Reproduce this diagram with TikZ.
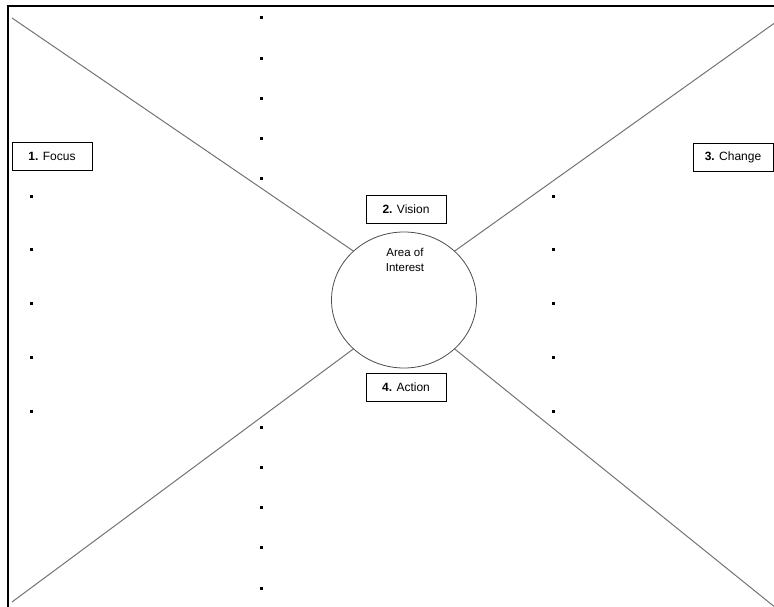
\documentclass[tikz,border=0pt]{standalone}
\usepackage{fontspec}
\setmainfont{Liberation Sans}
\usetikzlibrary{positioning,shapes.geometric}

\begin{document}
\begin{tikzpicture}[x=1pt, y=-1pt,
    stagebox/.style={draw=black, fill=white, line width=0.8pt, minimum width=80pt, minimum height=28pt, inner sep=0pt, font=\fontsize{12}{14}\selectfont},
    spoke/.style={draw=black!55, line width=1pt},
    dotmark/.style={fill=black}]
  \useasboundingbox (0,0) rectangle (774,607);

  % frame
  \draw[line width=2pt] (8,607) -- (8,6) -- (774,6);

  % centre
  \node[ellipse, draw=black!70, line width=0.8pt, minimum width=145pt, minimum height=136pt] (area) at (404,300) {};
  \node[align=center, font=\fontsize{11.5}{14.5}\selectfont] (aoi) at (405,260) {Area of\\Interest};

  \coordinate (tl) at (12,18);
  \coordinate (tr) at (776,22);
  \coordinate (bl) at (12,602);
  \coordinate (br) at (776,608);
  \draw[spoke] (tl) -- (area.136);
  \draw[spoke] (tr) -- (area.44);
  \draw[spoke] (bl) -- (area.224);
  \draw[spoke] (br) -- (area.316);

  \node[stagebox] (focus) at (52,156) {\textbf{1.} Focus};
  \node[stagebox] (vision) at (406,209) {\textbf{2.} Vision};
  \node[stagebox] (change) at (733,157) {\textbf{3.} Change};
  \node[stagebox] (action) at (406,387) {\textbf{4.} Action};

  % bullet points
  \foreach \y in {18,59,99,139,179,427,467,507,547,588}
    \fill[dotmark] (259.5,\y-1.5) rectangle ++(3,3);
  \foreach \y in {196,249,303,357,411} {
    \fill[dotmark] (29.5,\y-1.5) rectangle ++(3,3);
    \fill[dotmark] (551.5,\y-1.5) rectangle ++(3,3);
  }
\end{tikzpicture}
\end{document}
